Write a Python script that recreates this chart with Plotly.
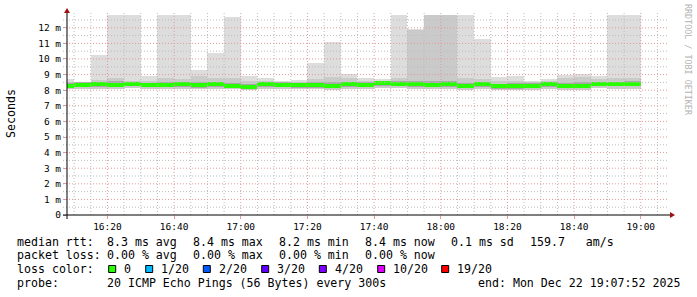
import plotly.graph_objects as go
import pandas as pd

# ---------------- data ----------------
interval_start = pd.date_range("2025-12-22 16:05", periods=35, freq="5min")
median_ms = [8.25, 8.36, 8.38, 8.35, 8.42, 8.33, 8.34, 8.38, 8.31, 8.38,
             8.27, 8.23, 8.38, 8.36, 8.31, 8.31, 8.29, 8.38, 8.36, 8.44,
             8.42, 8.38, 8.36, 8.38, 8.29, 8.38, 8.25, 8.25, 8.29, 8.38,
             8.29, 8.29, 8.42, 8.40, 8.40]
smoke_min = [8.05, 8.10, 8.10, 8.08, 8.12, 8.08, 8.08, 8.10, 8.05, 8.10,
             8.05, 8.02, 8.10, 8.08, 8.05, 8.05, 8.04, 8.10, 8.08, 8.14,
             8.12, 8.10, 8.06, 8.10, 8.04, 8.10, 8.02, 8.02, 8.04, 8.10,
             8.04, 8.04, 8.12, 8.10, 8.10]
smoke_p25 = [8.12, 8.20, 8.22, 8.20, 8.25, 8.18, 8.20, 8.22, 8.16, 8.22,
             8.12, 8.10, 8.22, 8.20, 8.16, 8.16, 8.14, 8.22, 8.20, 8.28,
             8.26, 8.22, 8.20, 8.22, 8.12, 8.22, 8.10, 8.10, 8.14, 8.22,
             8.12, 8.12, 8.26, 8.24, 8.24]
smoke_p75 = [8.45, 8.50, 8.55, 8.58, 8.55, 8.48, 8.55, 8.55, 8.50, 8.52,
             8.45, 8.40, 8.52, 8.50, 8.47, 8.50, 8.50, 8.55, 8.50, 8.58,
             8.56, 8.60, 8.62, 8.58, 8.45, 8.52, 8.42, 8.45, 8.45, 8.52,
             8.48, 8.52, 8.55, 8.55, 8.60]
smoke_p90 = [8.55, 8.50, 8.65, 8.75, 8.62, 8.62, 8.75, 8.70, 8.90, 8.75,
             8.75, 8.62, 8.62, 8.50, 8.55, 8.70, 8.85, 8.75, 8.58, 8.60,
             8.75, 11.85, 14.0, 14.0, 8.75, 8.70, 8.62, 8.62, 8.50, 8.62,
             8.75, 8.85, 8.72, 8.75, 8.80]
smoke_max = [8.70, 8.55, 10.26, 14.0, 14.0, 8.90, 14.0, 14.0, 9.30, 10.40,
             12.70, 8.90, 8.78, 8.57, 8.65, 9.76, 11.09, 9.04, 8.78, 8.70,
             14.0, 11.95, 14.0, 14.0, 14.0, 11.30, 8.83, 8.90, 8.57, 8.72,
             8.95, 9.04, 8.93, 14.0, 14.0]

y_tick_values = list(range(0, 13))
y_tick_labels = ["0"] + [f"{v} m" for v in range(1, 13)]

stat_rows = [
    ("median rtt:", ["8.3 ms avg", "8.4 ms max", "8.2 ms min", "8.4 ms now", "0.1 ms sd", "159.7   am/s"]),
    ("packet loss:", ["0.00 % avg", "0.00 % max", "0.00 % min", "0.00 % now"]),
]
loss_labels = ["0", "1/20", "2/20", "3/20", "4/20", "10/20", "19/20"]
loss_colors = ["#26ff00", "#00b8ff", "#0059ff", "#5e00ff", "#7e00ff", "#dd00ff", "#ff0000"]
probe_text = "20 ICMP Echo Pings (56 Bytes) every 300s"
end_text = "end: Mon Dec 22 19:07:52 2025"

# ---------------- layout constants ----------------
W, H = 697, 297
L, R, T, B = 67, 30, 15, 82
PW, PH = W - L - R, H - T - B
MONO = "DejaVu Sans Mono"
BAR_W = 5 * 60 * 1000
MED_HALF = 0.13
YMAX = 12.82
MAJOR_C = "#e29a9a"
MINOR_C = "#bdbdbd"


def px(xp):
    return (xp - L) / PW


def py(yp):
    return (H - B - yp) / PH


centers = interval_start + pd.Timedelta(minutes=2.5)

fig = go.Figure()


def band(lo, hi, color):
    fig.add_trace(go.Bar(
        x=centers, base=lo, y=[h - l for l, h in zip(lo, hi)], width=BAR_W,
        marker=dict(color=color, line=dict(width=0)), hoverinfo="skip"))


band(smoke_min, smoke_max, "#dddddd")
band(smoke_min, smoke_p90, "#cacaca")
band(smoke_p25, smoke_p75, "#a8a8a8")
band([m - MED_HALF for m in median_ms], [m + MED_HALF for m in median_ms], "#26ff00")

shapes = []
# grid (drawn above the traces, as rrdtool does)
for t in pd.date_range("2025-12-22 16:10", "2025-12-22 19:05", freq="5min"):
    major = t.minute % 20 == 0
    shapes.append(dict(type="line", xref="x", yref="paper", x0=t, x1=t, y0=0, y1=1.01,
                       line=dict(color=MAJOR_C if major else MINOR_C, width=1, dash="1px,2px"),
                       layer="above"))
for k in range(1, 26):
    v = k * 0.5
    major = k % 2 == 0
    shapes.append(dict(type="line", xref="paper", yref="y", x0=px(63), x1=px(669), y0=v, y1=v,
                       line=dict(color=MAJOR_C if major else MINOR_C, width=1, dash="1px,2px"),
                       layer="above"))
# axes with arrows
shapes.append(dict(type="line", xref="paper", yref="paper", x0=px(63), x1=px(670), y0=py(215), y1=py(215),
                   line=dict(color="#000000", width=1), layer="above"))
shapes.append(dict(type="line", xref="paper", yref="paper", x0=px(67), x1=px(67), y0=py(219), y1=py(12),
                   line=dict(color="#000000", width=1), layer="above"))
shapes.append(dict(type="path", xref="paper", yref="paper",
                   path=f"M {px(670)} {py(212)} L {px(675)} {py(215)} L {px(670)} {py(218)} Z",
                   fillcolor="#a01010", line=dict(width=0), layer="above"))
shapes.append(dict(type="path", xref="paper", yref="paper",
                   path=f"M {px(64)} {py(13)} L {px(67)} {py(8)} L {px(70)} {py(13)} Z",
                   fillcolor="#a01010", line=dict(width=0), layer="above"))

annotations = []


def text(xp, yp, s, size=11.6, color="#000000", anchor="left", angle=0):
    annotations.append(dict(x=px(xp), y=py(yp), xref="paper", yref="paper", text=s,
                            showarrow=False, xanchor=anchor, yanchor="middle", textangle=angle,
                            borderpad=0, borderwidth=0,
                            font=dict(family=MONO, size=size, color=color)))


row_y = [241.7, 255.3, 269.0, 282.7]
item_x = [107.3, 192.7, 279.3, 365.0, 451.0, 530.0]
for (label, items), yy in zip(stat_rows, row_y):
    text(16.7, yy, label)
    for s, xx in zip(items, item_x):
        text(xx, yy, s)

text(16.7, row_y[2], "loss color:")
sq_x = [108.7, 145.7, 203.3, 261.7, 319.3, 377.7, 441.7]
for lab, col, xx in zip(loss_labels, loss_colors, sq_x):
    shapes.append(dict(type="rect", xref="paper", yref="paper",
                       x0=px(xx), x1=px(xx + 7), y0=py(272.5), y1=py(265.5),
                       fillcolor=col, line=dict(color="#000000", width=1)))
    text(xx + 15.3, row_y[2], lab)

text(16.7, row_y[3], "probe:")
text(107.3, row_y[3], probe_text)
text(478.3, row_y[3], end_text)

text(11, 114, "Seconds", angle=-90, anchor="center")
text(688, 60, "RRDTOOL / TOBI OETIKER", size=8.4, color="#b4b4b4", anchor="center", angle=90)

fig.update_layout(
    width=W, height=H, margin=dict(l=L, r=R, t=T, b=B, pad=0),
    paper_bgcolor="#ffffff", plot_bgcolor="#ffffff",
    barmode="overlay", bargap=0, showlegend=False,
    shapes=shapes, annotations=annotations,
    font=dict(family=MONO, size=9.5, color="#000000"),
)
fig.update_xaxes(
    type="date", range=["2025-12-22 16:07:52", "2025-12-22 19:07:52"],
    tick0="2025-12-22 16:00", dtick=20 * 60 * 1000, tickformat="%H:%M",
    showgrid=False, zeroline=False, showline=False,
    ticks="outside", ticklen=3, tickcolor=MAJOR_C,
    tickfont=dict(family=MONO, size=9.5, color="#000000"),
)
fig.update_yaxes(
    range=[0, YMAX], tickvals=y_tick_values, ticktext=y_tick_labels,
    showgrid=False, zeroline=False, showline=False,
    ticks="outside", ticklen=3, tickcolor=MAJOR_C,
    tickfont=dict(family=MONO, size=9.5, color="#000000"),
)

fig.write_html("out.html")
